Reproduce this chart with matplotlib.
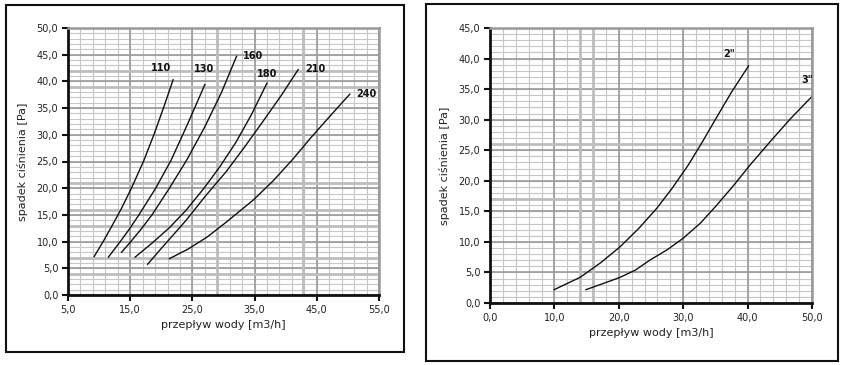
import matplotlib.pyplot as plt
from matplotlib.patches import Rectangle

# lewy wykres - krzywe wg średnicy
x110 = [9.2, 10.6, 12.0, 13.5, 15.2, 17.2, 18.9, 20.4, 21.9]
y110 = [7.2, 9.9, 12.8, 16.0, 20.0, 25.2, 30.3, 35.2, 40.3]
x130 = [11.5, 13.4, 14.9, 16.4, 19.1, 21.6, 24.3, 27.0]
y130 = [7.1, 10.0, 12.4, 15.0, 20.0, 25.3, 32.2, 39.4]
x160 = [13.6, 15.1, 16.8, 18.5, 21.3, 24.1, 27.0, 29.7, 32.1]
y160 = [8.0, 10.0, 12.4, 15.0, 20.0, 25.3, 31.5, 38.0, 44.7]
x180 = [15.8, 18.6, 21.3, 24.0, 26.8, 29.4, 32.0, 34.5, 37.0]
y180 = [7.1, 9.8, 12.6, 15.9, 19.9, 24.0, 28.6, 33.8, 39.7]
x210 = [17.8, 19.6, 21.5, 24.0, 27.0, 30.5, 33.5, 36.4, 39.3, 42.0]
y210 = [5.75, 8.2, 10.7, 14.0, 18.4, 23.2, 27.9, 32.6, 37.4, 42.2]
x240 = [21.3, 24.3, 27.3, 30.4, 34.8, 38.0, 41.2, 44.0, 47.2, 50.3]
y240 = [6.8, 8.6, 10.8, 13.6, 17.8, 21.4, 25.5, 29.4, 33.6, 37.6]
lewe_serie = [("110", x110, y110, 19.9, 42.5), ("130", x130, y130, 26.8, 42.3),
              ("160", x160, y160, 34.8, 44.7), ("180", x180, y180, 37.0, 41.4),
              ("210", x210, y210, 44.7, 42.3), ("240", x240, y240, 53.0, 37.6)]

# prawy wykres - 2" i 3"
x2 = [9.95, 14.0, 17.2, 20.2, 23.1, 25.9, 28.3, 30.8, 33.0, 35.2, 37.5, 40.15]
y2 = [2.18, 4.2, 6.6, 9.2, 12.2, 15.5, 18.8, 22.6, 26.4, 30.4, 34.5, 38.8]
x3 = [14.9, 17.6, 20.2, 22.6, 24.8, 27.5, 30.0, 32.7, 35.2, 37.8, 40.4, 43.5, 46.7, 50.0]
y3 = [2.18, 3.2, 4.2, 5.4, 7.0, 8.7, 10.6, 13.1, 16.0, 19.2, 22.6, 26.4, 30.2, 33.8]
prawe_serie = [('2"', x2, y2, 37.2, 40.8), ('3"', x3, y3, 49.2, 36.5)]


def fmt(v):
    return "{:.1f}".format(v).replace(".", ",")


def siatka(ax, x0, x1, xstep, xmaj, y0, y1, extra_x, extra_y):
    v = x0
    while v <= x1 + 1e-9:
        ax.axvline(v, color="#c6c6c6", lw=0.8, zorder=0)
        v += xstep
    for v in range(int(y0), int(y1) + 1):
        ax.axhline(v, color="#c6c6c6", lw=0.8, zorder=0)
    for v in xmaj:
        ax.axvline(v, color="#9a9a9a", lw=1.2, zorder=0)
    for v in range(int(y0), int(y1) + 1, 5):
        ax.axhline(v, color="#9a9a9a", lw=1.2, zorder=0)
    for v in extra_x:
        ax.axvline(v, color="#bdbdbd", lw=2.0, zorder=0)
    for v in extra_y:
        ax.axhline(v, color="#bdbdbd", lw=2.0, zorder=0)


def styl(ax, xt, yt, xlim, ylim):
    ax.set_xlim(*xlim)
    ax.set_ylim(*ylim)
    ax.set_xticks(xt)
    ax.set_yticks(yt)
    ax.set_xticklabels([fmt(v) for v in xt], fontsize=7, color="#222222")
    ax.set_yticklabels([fmt(v) for v in yt], fontsize=7, color="#222222")
    ax.tick_params(direction="out", length=4, width=1.5, color="#111111", pad=3)
    for s in ["left", "bottom"]:
        ax.spines[s].set_linewidth(2)
        ax.spines[s].set_color("#111111")
    for s in ["top", "right"]:
        ax.spines[s].set_linewidth(1.8)
        ax.spines[s].set_color("#999999")
    ax.set_xlabel("przepływ wody [m3/h]", fontsize=8, color="#222222", labelpad=4)
    ax.set_ylabel("spadek ciśnienia [Pa]", fontsize=8, color="#222222", labelpad=6)


fig = plt.figure(figsize=(8.43, 3.65), dpi=100)

ax1 = fig.add_axes([68 / 843, 1 - 295 / 365, 311 / 843, 267 / 365])
siatka(ax1, 5, 55, 2, [15, 25, 35, 45, 55], 0, 50, [29, 42.8], [4, 7, 13, 16, 21, 39, 42])
for nazwa, xs, ys, lx, ly in lewe_serie:
    ax1.plot(xs, ys, color="#111111", lw=1.0)
    ax1.text(lx, ly, nazwa, fontsize=7, fontweight="bold", ha="center", va="center",
             color="#111111")
styl(ax1, [5, 15, 25, 35, 45, 55], list(range(0, 51, 5)), (5, 55), (0, 50))

ax2 = fig.add_axes([490 / 843, 1 - 303 / 365, 322 / 843, 275 / 365])
siatka(ax2, 0, 50, 2, [0, 10, 20, 30, 40, 50], 0, 45, [14, 16], [17, 26])
for nazwa, xs, ys, lx, ly in prawe_serie:
    ax2.plot(xs, ys, color="#111111", lw=1.0)
    ax2.text(lx, ly, nazwa, fontsize=7, fontweight="bold", ha="center", va="center",
             color="#111111")
styl(ax2, [0, 10, 20, 30, 40, 50], list(range(0, 46, 5)), (0, 50), (0, 45))

# ramki wokół wykresów
fig.patches.append(Rectangle((6 / 843, 1 - 352 / 365), 398 / 843, 347 / 365,
                             transform=fig.transFigure, fill=False, lw=1.5,
                             edgecolor="#111111"))
fig.patches.append(Rectangle((426 / 843, 1 - 361 / 365), 412 / 843, 357 / 365,
                             transform=fig.transFigure, fill=False, lw=1.5,
                             edgecolor="#111111"))

fig.savefig("out.png", dpi=100)
